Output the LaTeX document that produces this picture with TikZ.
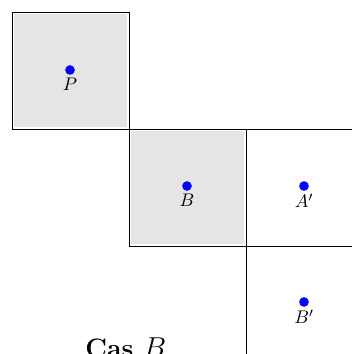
\documentclass[tikz,border=0pt]{standalone}
\usetikzlibrary{positioning}
\definecolor{grisc}{HTML}{E5E5E5}

\begin{document}
\begin{tikzpicture}[
  x=0.6pt, y=-0.6pt,
  cell/.style={draw, line width=0.6pt, minimum size=70.2pt, inner sep=0pt},
  fond/.style={fill=grisc, minimum size=68pt, inner sep=0pt},
  pt/.style={circle, fill=blue, inner sep=0pt, minimum size=5.8pt},
  lab/.style={inner sep=1pt, font=\fontsize{11}{13}\selectfont}
]
\useasboundingbox (0,0) rectangle (351,354);
% cases grises
\node[fond] (fP) at (70.5,70.5) {};
\node[fond] (fB) at (187.5,187.5) {};
% bords
\node[cell] (cP) at (70.5,70.5) {};
\node[cell] (cB) at (187.5,187.5) {};
\node[cell] (cA) at (304.5,187.5) {};
\node[cell] (cBp) at (304.5,304.5) {};
% points
\node[pt] (P) at (70,70) {};
\node[pt] (B) at (187,186) {};
\node[pt] (Ap) at (304,186) {};
\node[pt] (Bp) at (304,302) {};
\node[lab, below=0.3pt of P] (lP) {$P$};
\node[lab, below=0.3pt of B] (lB) {$B$};
\node[lab, below=0.3pt of Ap] (lAp) {$A'$};
\node[lab, below=0.3pt of Bp] (lBp) {$B'$};
\node[anchor=base west, font=\fontsize{16}{19}\selectfont\bfseries, inner sep=0pt] (cas) at (85,357) {Cas $B$};
\end{tikzpicture}
\end{document}
